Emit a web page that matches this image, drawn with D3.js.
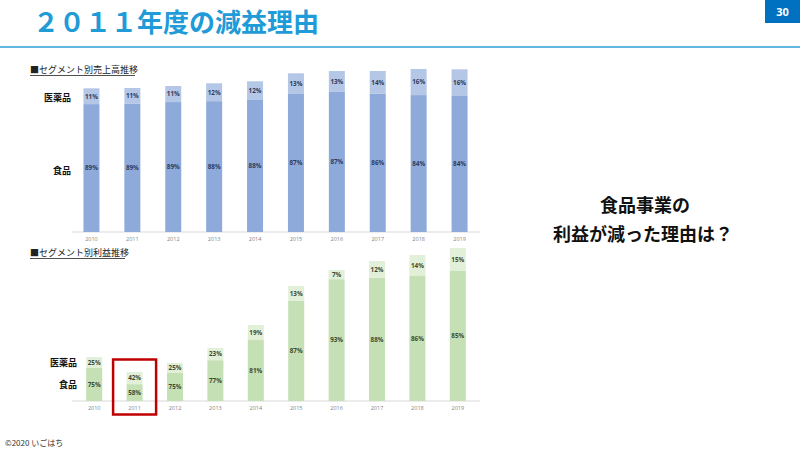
<!DOCTYPE html>
<html><head><meta charset="utf-8">
<script src="https://cdn.jsdelivr.net/npm/d3@7"></script>
<style>
html,body{margin:0;padding:0;background:#fff;}
svg{display:block;font-family:"Noto Sans CJK JP","Noto Sans",sans-serif;}
</style></head>
<body>
<svg id="c" width="800" height="450"></svg>
<script>
const years = ["2010","2011","2012","2013","2014","2015","2016","2017","2018","2019"];
const segments = ["食品","医薬品"];
// 売上高（相対値）と構成比
const salesTotal = [1437,1440,1460,1487,1507,1587,1610,1610,1630,1627];
const salesFoodPct = [89,89,89,88,88,87,87,86,84,84];
const salesPharmaPct = [11,11,11,12,12,13,13,14,16,16];
// 利益（相対値）と構成比
const profitTotal = [44,29,38,53,76,115,131,140,146,153];
const profitFoodPct = [75,58,75,77,81,87,93,88,86,85];
const profitPharmaPct = [25,42,25,23,19,13,7,12,14,15];
const highlightYear = "2011";

const svg = d3.select("#c");

// header
svg.append("text").attr("x",33).attr("y",32).attr("fill","#1f9bd7")
  .attr("font-size",26).attr("font-weight",700).text("２０１１年度の減益理由");
svg.append("line").attr("x1",0).attr("x2",800).attr("y1",47).attr("y2",47)
  .attr("stroke","#2e9ed6").attr("stroke-width",1.5);
svg.append("rect").attr("x",765).attr("y",0).attr("width",35).attr("height",23).attr("fill","#0070c0");
svg.append("text").attr("x",782.5).attr("y",16).attr("text-anchor","middle").attr("fill","#fff")
  .attr("font-size",11).attr("font-weight",700).attr("font-family","'Open Sans',sans-serif").text("30");

function sectionTitle(y, txt, w){
  svg.append("text").attr("x",30).attr("y",y).attr("font-size",9).attr("fill","#222").text(txt);
  svg.append("line").attr("x1",30).attr("x2",30+w).attr("y1",y+2.5).attr("y2",y+2.5)
    .attr("stroke","#222").attr("stroke-width",0.8);
}

function drawChart(opt){
  const x = d3.scaleBand().domain(years).range(opt.xr).paddingInner(0.6).paddingOuter(0.3);
  const y = d3.scaleLinear().domain(opt.domain).range([opt.base, opt.base - opt.h]);
  const g = svg.append("g");
  const rows = years.map((yr,i)=>{
    const food = opt.total[i]*opt.foodPct[i]/100;
    return {yr, food, total: opt.total[i], fp: opt.foodPct[i], pp: opt.pharmaPct[i]};
  });
  // axis
  const ax = g.append("g").attr("transform",`translate(0,${opt.base})`)
    .call(d3.axisBottom(x).tickSize(0).tickPadding(5));
  ax.select(".domain").attr("stroke","#d9d9d9").attr("stroke-width",1)
    .attr("d",`M${opt.axisX[0]},0H${opt.axisX[1]}`);
  ax.selectAll("text").attr("font-size",5.5).attr("fill","#7f7f7f").attr("font-family","'Open Sans',sans-serif");
  // bars
  const bw = 16;
  const cx = d => x(d.yr) + x.bandwidth()/2;
  g.selectAll(".food").data(rows).join("rect")
    .attr("x",d=>cx(d)-bw/2).attr("width",bw)
    .attr("y",d=>y(d.food)).attr("height",d=>y(0)-y(d.food)).attr("fill",opt.c1);
  g.selectAll(".ph").data(rows).join("rect")
    .attr("x",d=>cx(d)-bw/2).attr("width",bw)
    .attr("y",d=>y(d.total)).attr("height",d=>y(d.food)-y(d.total)).attr("fill",opt.c2);
  g.selectAll(".lf").data(rows).join("text")
    .attr("x",cx).attr("y",d=>(y(0)+y(d.food))/2+2.3).attr("text-anchor","middle")
    .attr("font-size",6.3).attr("font-weight",700).attr("fill",opt.tc).attr("font-family","'Open Sans',sans-serif")
    .text(d=>d.fp+"%");
  g.selectAll(".lp").data(rows).join("text")
    .attr("x",cx).attr("y",d=>(y(d.food)+y(d.total))/2+2.3).attr("text-anchor","middle")
    .attr("font-size",6.3).attr("font-weight",700).attr("fill",opt.tc).attr("font-family","'Open Sans',sans-serif")
    .text(d=>d.pp+"%");
  // segment labels
  const first = rows[0];
  const labY = [ (y(0)+y(first.food))/2, (y(first.food)+y(first.total))/2 ];
  if(opt.segY){ labY[0]=opt.segY[0]; labY[1]=opt.segY[1]; }
  segments.forEach((s,i)=>{
    g.append("text").attr("x",opt.segX).attr("y",labY[i]+3.3).attr("text-anchor","end")
      .attr("font-size",9).attr("font-weight",700).attr("fill","#111").text(s);
  });
  return {x,y,rows};
}

sectionTitle(73, "■セグメント別売上高推移", 105);
drawChart({xr:[71,480], axisX:[72,480], base:232, h:170, domain:[0,1700], total:salesTotal,
  foodPct:salesFoodPct, pharmaPct:salesPharmaPct, c1:"#8eaadb", c2:"#b4c7e7", tc:"#2f3b5c",
  segX:71, segY:[171,98]});

sectionTitle(256, "■セグメント別利益推移", 95);
const bot = drawChart({xr:[74,478], axisX:[72,480], base:401, h:160, domain:[0,160], total:profitTotal,
  foodPct:profitFoodPct, pharmaPct:profitPharmaPct, c1:"#c5e0b4", c2:"#e2f0d9", tc:"#3b4a33",
  segX:77, segY:[385,363]});

// highlight box
const hx = bot.x(highlightYear) + bot.x.bandwidth()/2;
svg.append("rect").attr("x",hx-21.5).attr("y",359.5).attr("width",43).attr("height",55)
  .attr("fill","none").attr("stroke","#c00000").attr("stroke-width",2.5);

// right text
svg.append("text").attr("x",645).attr("y",212).attr("text-anchor","middle")
  .attr("font-size",18).attr("font-weight",700).attr("fill","#111").text("食品事業の");
svg.append("text").attr("x",643).attr("y",241).attr("text-anchor","middle")
  .attr("font-size",18).attr("font-weight",700).attr("fill","#111").text("利益が減った理由は？");

svg.append("text").attr("x",5).attr("y",446).attr("font-size",8).attr("fill","#333").text("©2020 いごはち");
</script>
</body></html>
